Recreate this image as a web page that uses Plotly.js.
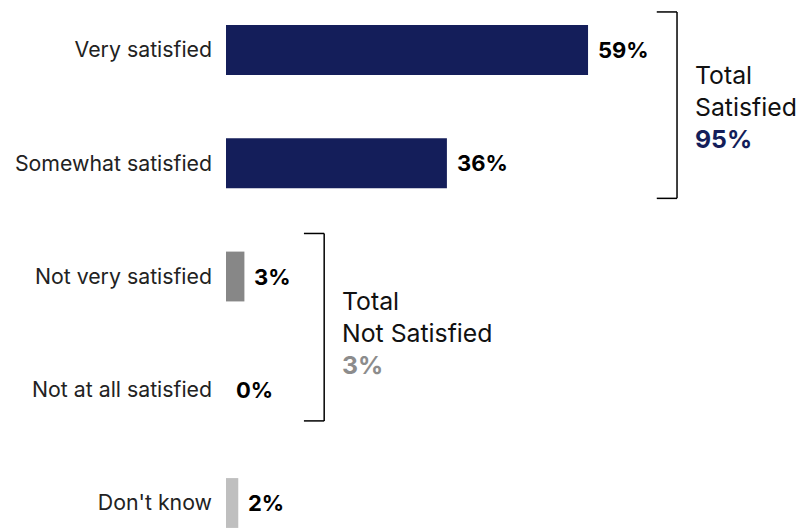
<!DOCTYPE html>
<html>
<head>
<meta charset="utf-8">
<script src="https://cdn.plot.ly/plotly-3.0.1.min.js"></script>
<style>html,body{margin:0;padding:0;background:#fff;}#chart{width:803px;height:532px;}</style>
</head>
<body>
<div id="chart"></div>
<script>
const categories = ["Very satisfied", "Somewhat satisfied", "Not very satisfied", "Not at all satisfied", "Don't know"];
const values = [59, 36, 3, 0, 2];
const barColors = ["#141E5A", "#141E5A", "#878787", "#878787", "#BFBFBF"];
const groupLabels = ["Total<br>Satisfied", "Total<br>Not Satisfied"];
const groupTotals = [95, 3];
const groupColors = ["#141E5A", "#8C8C8C"];
const groupRanges = [[0, 1], [2, 3]];

const FONT = "Inter, Roboto, sans-serif";

const trace = {
  type: "bar",
  orientation: "h",
  y: categories,
  x: values,
  marker: { color: barColors },
  width: 0.44,
  hoverinfo: "skip"
};

const annotations = values.map((v, i) => ({
  x: v, y: categories[i], xref: "x", yref: "y",
  text: "<b>" + v + "%</b>", showarrow: false,
  xanchor: "left", yanchor: "middle", xshift: 8,
  font: { family: FONT, size: 22, color: "#000" }
}));

const shapes = [];
const bracketX = [73.5, 16.0];
const bracketPad = [[0.336, 0.31], [0.38, 0.275]];
const tickLen = 3.3;
groupRanges.forEach((r, g) => {
  const y0 = r[0] - bracketPad[g][0], y1 = r[1] + bracketPad[g][1];
  const bx = bracketX[g];
  const ln = { color: "#000", width: 1.5 };
  shapes.push({ type: "line", xref: "x", yref: "y", x0: bx, x1: bx, y0: y0, y1: y1, line: ln });
  shapes.push({ type: "line", xref: "x", yref: "y", x0: bx - tickLen, x1: bx, y0: y0, y1: y0, line: ln });
  shapes.push({ type: "line", xref: "x", yref: "y", x0: bx - tickLen, x1: bx, y0: y1, y1: y1, line: ln });
  annotations.push({
    x: bx, y: (r[0] + r[1]) / 2, xref: "x", yref: "y",
    text: groupLabels[g] + "<br><b><span style='color:" + groupColors[g] + "'>" + groupTotals[g] + "%</span></b>",
    showarrow: false, xanchor: "left", yanchor: "middle", align: "left", xshift: 16,
    font: { family: FONT, size: 24.8, color: "#111" }
  });
});

const layout = {
  width: 803, height: 532,
  margin: { l: 226, r: 0, t: 0, b: 0, pad: 0 },
  paper_bgcolor: "#fff", plot_bgcolor: "#fff",
  showlegend: false,
  xaxis: { range: [0, 94.03], visible: false, fixedrange: true },
  yaxis: {
    type: "category", categoryorder: "array", categoryarray: categories,
    range: [4.256, -0.4415], showgrid: false, zeroline: false, showline: false,
    ticks: "", ticklabelstandoff: 13,
    tickfont: { family: FONT, size: 21.3, color: "#222" }
  },
  shapes: shapes,
  annotations: annotations,
  font: { family: FONT }
};

Plotly.newPlot("chart", [trace], layout, { staticPlot: true, displayModeBar: false });
</script>
</body>
</html>
